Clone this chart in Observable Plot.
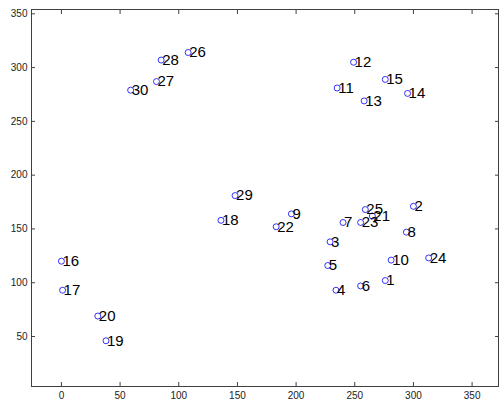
<!DOCTYPE html>
<html>
<head>
<meta charset="utf-8">
<script src="https://cdn.jsdelivr.net/npm/d3@7"></script>
<script src="https://cdn.jsdelivr.net/npm/@observablehq/plot@0.6"></script>
<style>
  html, body { margin: 0; padding: 0; background: #fff; }
</style>
</head>
<body>
<div id="chart"></div>
<script>
const ids = [1,2,3,4,5,6,7,8,9,10,11,12,13,14,15,16,17,18,19,20,21,22,23,24,25,26,27,28,29,30];
const xs = [276,300,229,234,227,255,240,294,196,281,235,249,258,295,276,0,1,136,38,31,265,183,255,313,259,108,81,85,148,59];
const ys = [102,171,138,93,116,97,156,147,164,121,281,305,269,276,289,120,93,158,46,69,162,152,156,123,168,314,287,307,181,279];
const xTicks = [0,50,100,150,200,250,300,350];
const yTicks = [50,100,150,200,250,300,350];

const pts = ids.map((id, i) => ({id, x: xs[i], y: ys[i]}));
const axisColor = "#404040";

const chart = Plot.plot({
  width: 499,
  height: 400,
  marginLeft: 31,
  marginRight: 1,
  marginTop: 9,
  marginBottom: 14,
  style: {fontFamily: "Liberation Sans, Arial, sans-serif", background: "#fff"},
  x: {domain: [-25.5, 372.5]},
  y: {domain: [3.5, 354]},
  marks: [
    Plot.frame({stroke: axisColor}),
    Plot.axisX(xTicks, {anchor: "bottom", tickSize: -4, fill: "none", stroke: axisColor, label: null}),
    Plot.axisX(xTicks, {anchor: "top", tickSize: -4, fill: "none", stroke: axisColor, label: null}),
    Plot.axisY(yTicks, {anchor: "left", tickSize: -4, fill: "none", stroke: axisColor, label: null}),
    Plot.axisY(yTicks, {anchor: "right", tickSize: -4, fill: "none", stroke: axisColor, label: null}),
    Plot.axisX(xTicks, {anchor: "bottom", tickSize: 0, tickPadding: 5, fill: "#222", fontSize: 10, label: null}),
    Plot.axisY(yTicks, {anchor: "left", tickSize: 0, tickPadding: 4, fill: "#222", fontSize: 10, label: null}),
    Plot.dot(pts, {x: "x", y: "y", r: 3, stroke: "#0000ff", strokeWidth: 0.8, fill: "none"}),
    Plot.text(pts, {x: "x", y: "y", text: d => String(d.id), textAnchor: "start", dx: 1, fontSize: 15, fill: "#000"})
  ]
});
document.getElementById("chart").appendChild(chart);
</script>
</body>
</html>
